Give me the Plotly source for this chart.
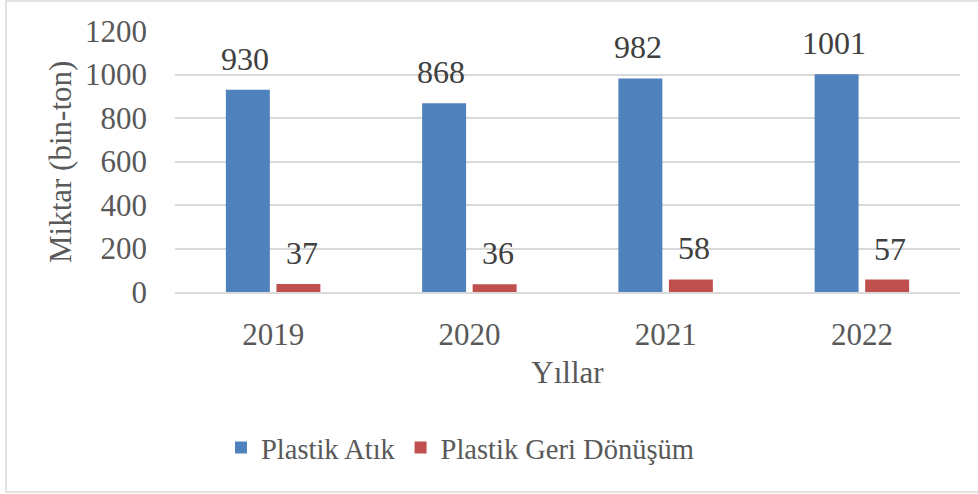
import plotly.graph_objects as go

years = ["2019", "2020", "2021", "2022"]
plastik_atik = [930, 868, 982, 1001]
geri_donusum = [37, 36, 58, 57]
y_ticks = [0, 200, 400, 600, 800, 1000, 1200]

W, H = 978, 494
L, R, T, B = 175, 18, 31, 202
PW, PH = W - L - R, H - T - B
FONT = "Liberation Serif, Times New Roman, serif"
TXT = "#595959"
LBL = "#404040"

fig = go.Figure()
fig.add_trace(go.Bar(
    name="Plastik Atık", x=years, y=plastik_atik,
    marker=dict(color="#4f81bd", line=dict(width=0)),
))
fig.add_trace(go.Bar(
    name="Plastik Geri Dönüşüm", x=years, y=geri_donusum,
    marker=dict(color="#c0504d", line=dict(width=0)),
))

# value labels above each bar; category axes place annotations by serial index,
# then each label is shifted to its bar's slot inside the group
annotations = []
for series, dx in ((plastik_atik, -28), (geri_donusum, 28.5)):
    for i, v in enumerate(series):
        annotations.append(dict(
            x=i, y=v, xref="x", yref="y", text=str(v), showarrow=False,
            xanchor="center", yanchor="bottom", xshift=dx, yshift=11,
            font=dict(family=FONT, size=32, color=LBL),
        ))

# vertical y-axis title placed just left of the tick labels
annotations.append(dict(
    x=(60 - L) / PW, y=(H - B - 162) / PH, xref="paper", yref="paper",
    text="Miktar (bin-ton)", textangle=-90, showarrow=False,
    xanchor="center", yanchor="middle",
    font=dict(family=FONT, size=31, color=TXT),
))

fig.update_layout(
    width=W, height=H,
    margin=dict(l=L, r=R, t=T, b=B),
    paper_bgcolor="white", plot_bgcolor="white",
    barmode="group", bargap=0.485, bargroupgap=0.13,
    font=dict(family=FONT, size=30, color=TXT),
    showlegend=True,
    legend=dict(orientation="h", x=(460 - L) / PW, xanchor="center",
                y=-0.50, yanchor="top",
                font=dict(family=FONT, size=28.5, color=TXT), itemwidth=30,
                traceorder="normal"),
    xaxis=dict(
        type="category",
        showgrid=False, showline=True, linecolor="#d9d9d9", linewidth=1.5,
        ticks="", ticklabelstandoff=14,
        tickfont=dict(family=FONT, size=31, color=TXT),
        title=dict(text="Yıllar", font=dict(family=FONT, size=31, color=TXT), standoff=10),
    ),
    yaxis=dict(
        range=[0, 1200], tickvals=y_ticks, ticktext=[str(v) for v in y_ticks],
        showgrid=True, gridcolor="#d9d9d9", gridwidth=1.5,
        zeroline=False, showline=False, ticks="", ticklabelstandoff=27,
        tickfont=dict(family=FONT, size=31, color=TXT),
    ),
    annotations=annotations,
    shapes=[dict(
        type="rect", xref="paper", yref="paper",
        x0=(6 - L) / PW, x1=(W + 5 - L) / PW,
        y0=-(492 - (H - B)) / PH, y1=(H - B - 1) / PH,
        line=dict(color="#d9d9d9", width=1.5), fillcolor="rgba(0,0,0,0)", layer="below",
    )],
)

fig.write_html("out.html")
